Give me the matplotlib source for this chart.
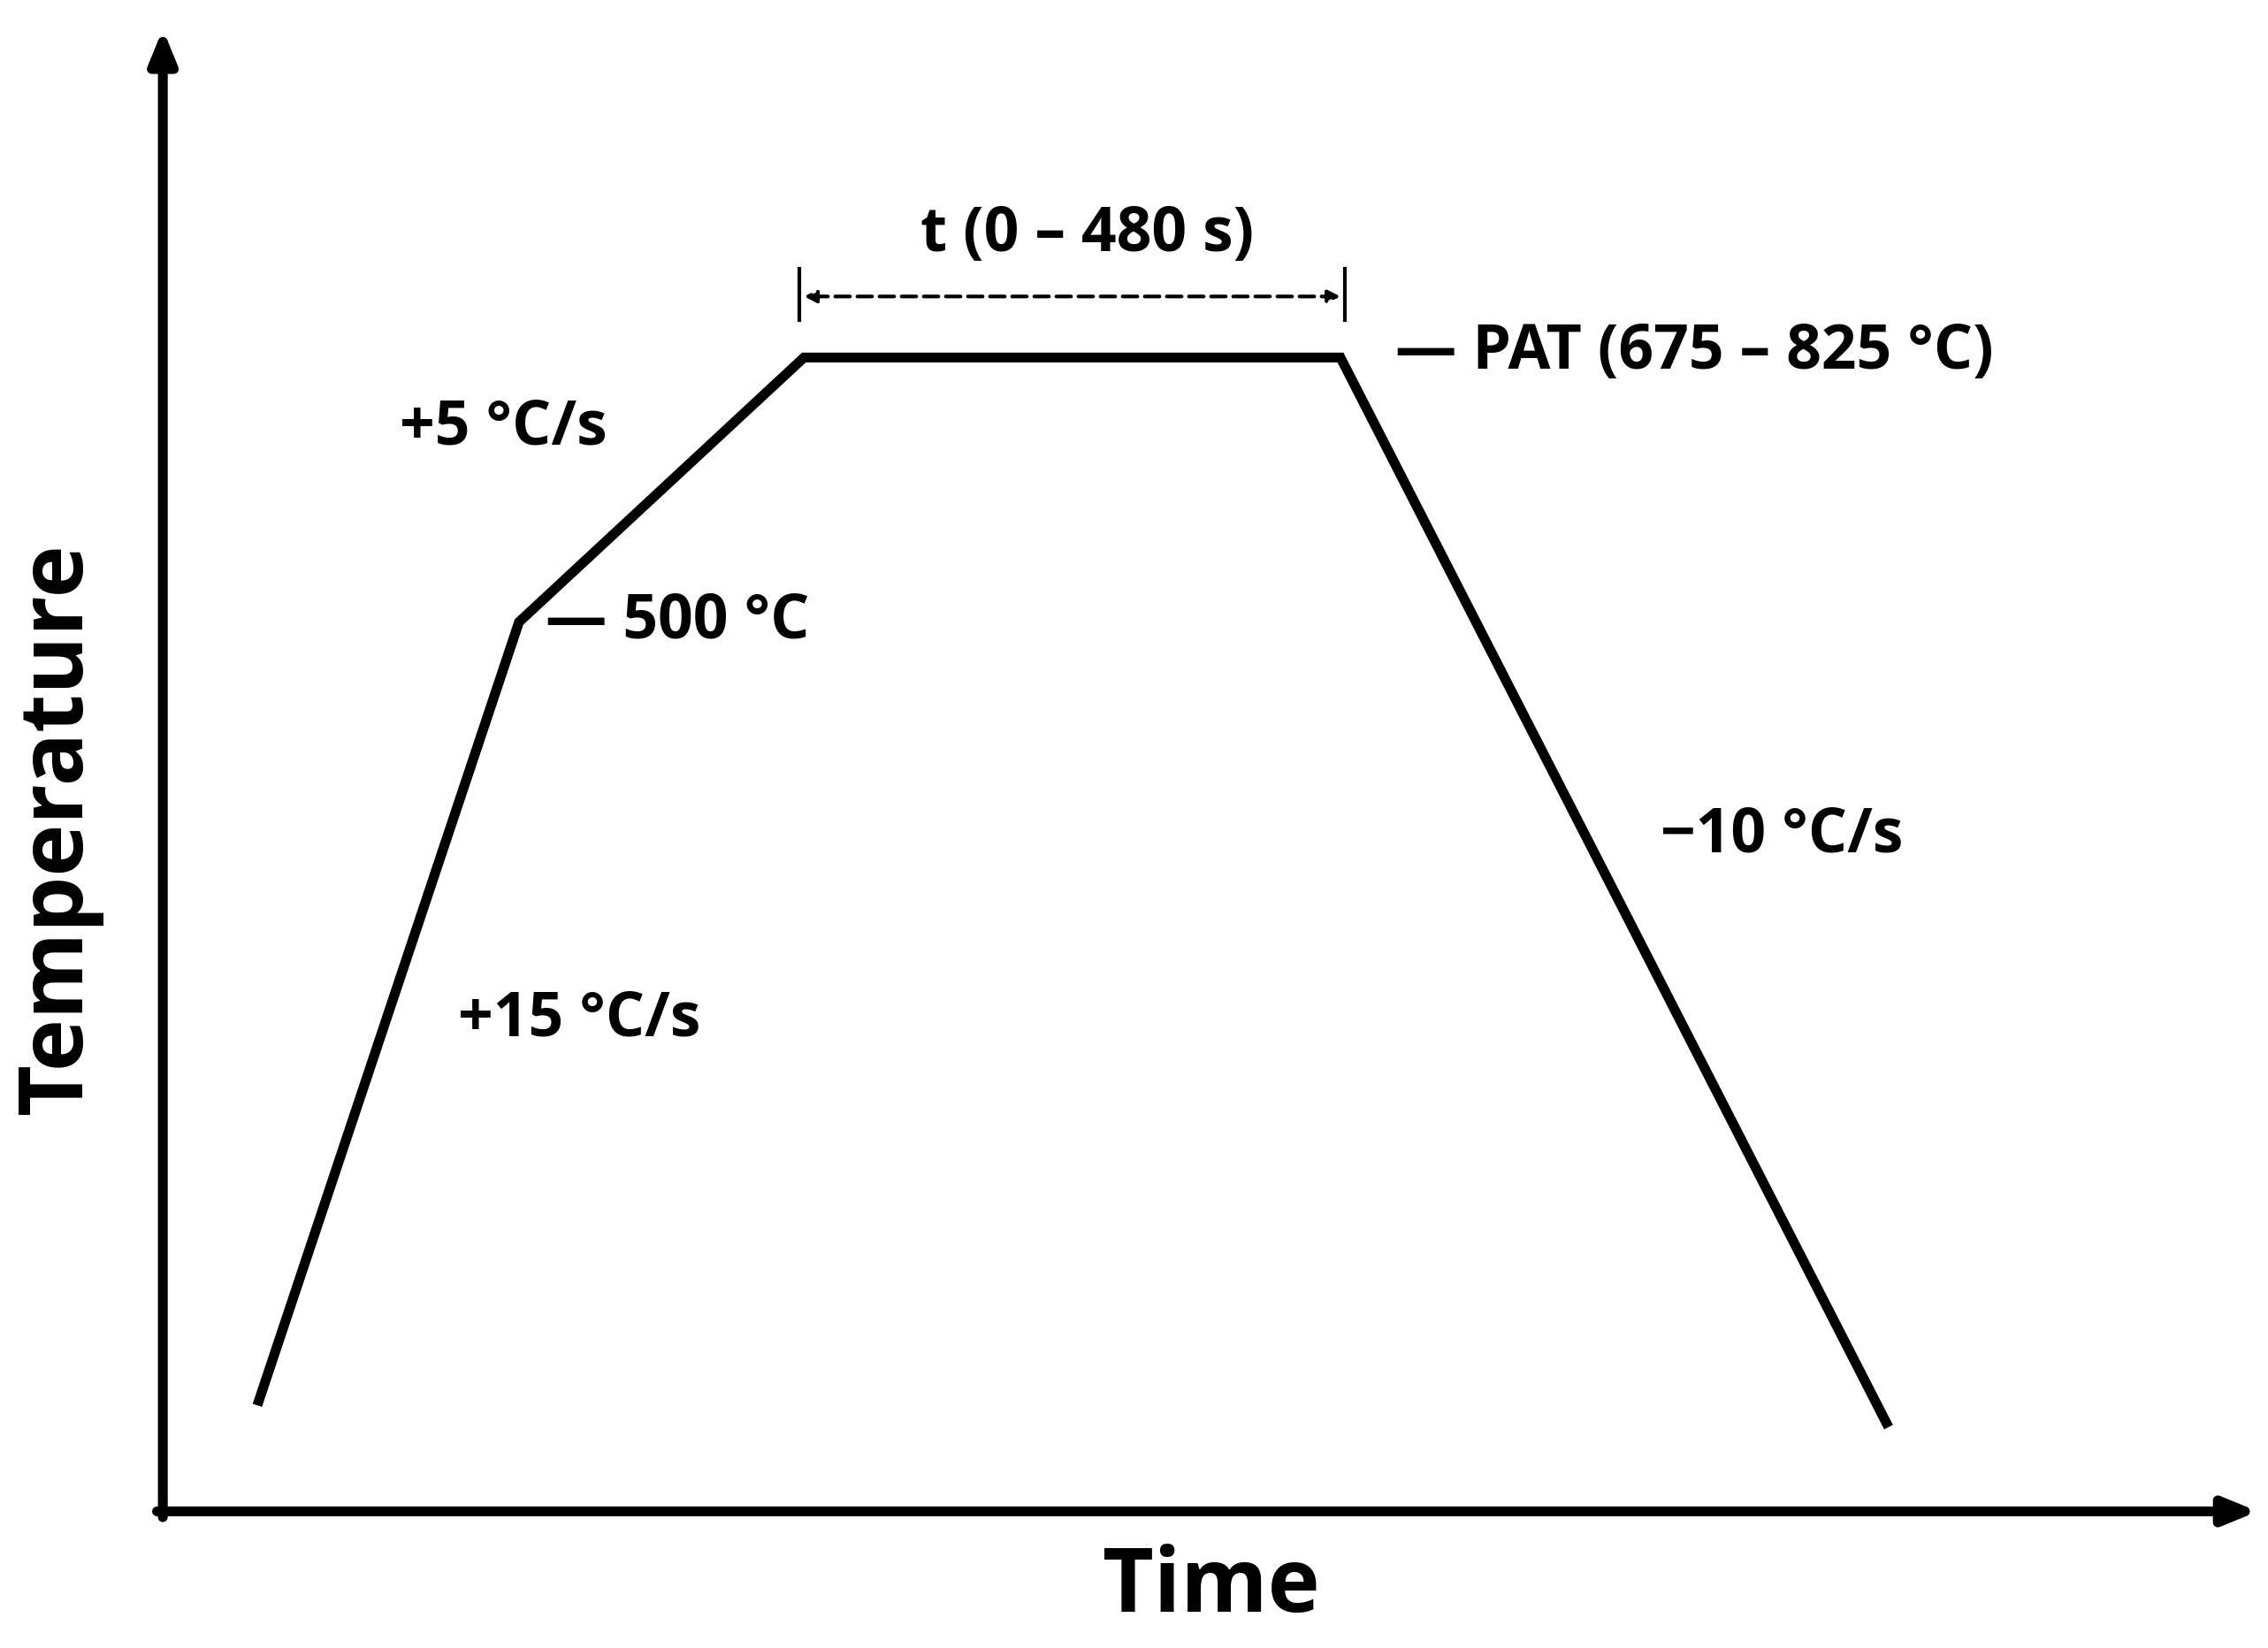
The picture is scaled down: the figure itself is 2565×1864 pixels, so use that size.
import matplotlib
matplotlib.use("Agg")
import matplotlib.pyplot as plt

# profile vertices (reference display coords, y downward)
profile_x = [177, 357, 553, 922, 1299]
profile_y = [967, 428, 246, 246, 982]
labels = ["+15 °C/s", "+5 °C/s", "— 500 °C", "— PAT (675 – 825 °C)", "−10 °C/s", "t (0 – 480 s)"]

fig = plt.figure(figsize=(25.65, 18.64), dpi=100)
ax = fig.add_axes([0, 0, 1, 1])
ax.set_xlim(0, 1560)
ax.set_ylim(1134, 0)
ax.axis("off")

F = dict(family=["Open Sans", "DejaVu Sans"], fontweight="bold", color="black")

ax.plot(profile_x, profile_y, color="black", lw=8, solid_capstyle="butt", solid_joinstyle="miter")

# axes with arrows
ax.annotate("", xy=(112, 20), xytext=(112, 1044),
            arrowprops=dict(arrowstyle="-|>,head_length=2.2,head_width=0.9", lw=8, color="black", shrinkA=0, shrinkB=0))
ax.annotate("", xy=(1553, 1040), xytext=(108, 1040),
            arrowprops=dict(arrowstyle="-|>,head_length=2.2,head_width=0.9", lw=8, color="black", shrinkA=0, shrinkB=0))

# duration arrow
ax.plot([550, 550], [185, 220], color="black", lw=3)
ax.plot([925, 925], [185, 220], color="black", lw=3)
ax.annotate("", xy=(553, 204), xytext=(922, 204),
            arrowprops=dict(arrowstyle="<|-|>,head_length=0.8,head_width=0.4", lw=3, ls=(0, (4, 2)), color="black", shrinkA=0, shrinkB=0))

ax.text(748, 162, labels[5], fontsize=50, ha="center", va="center", **F)
ax.text(960, 243, labels[3], fontsize=50, ha="left", va="center", **F)
ax.text(275, 295, labels[1], fontsize=50, ha="left", va="center", **F)
ax.text(375, 428, labels[2], fontsize=50, ha="left", va="center", **F)
ax.text(315, 702, labels[0], fontsize=50, ha="left", va="center", **F)
ax.text(1142, 575, labels[4], fontsize=50, ha="left", va="center", **F)

ax.text(40, 570, "Temperature", fontsize=72, rotation=90, ha="center", va="center", **F)
ax.text(833, 1093, "Time", fontsize=72, ha="center", va="center", **F)

fig.savefig("out.png", dpi=100)
